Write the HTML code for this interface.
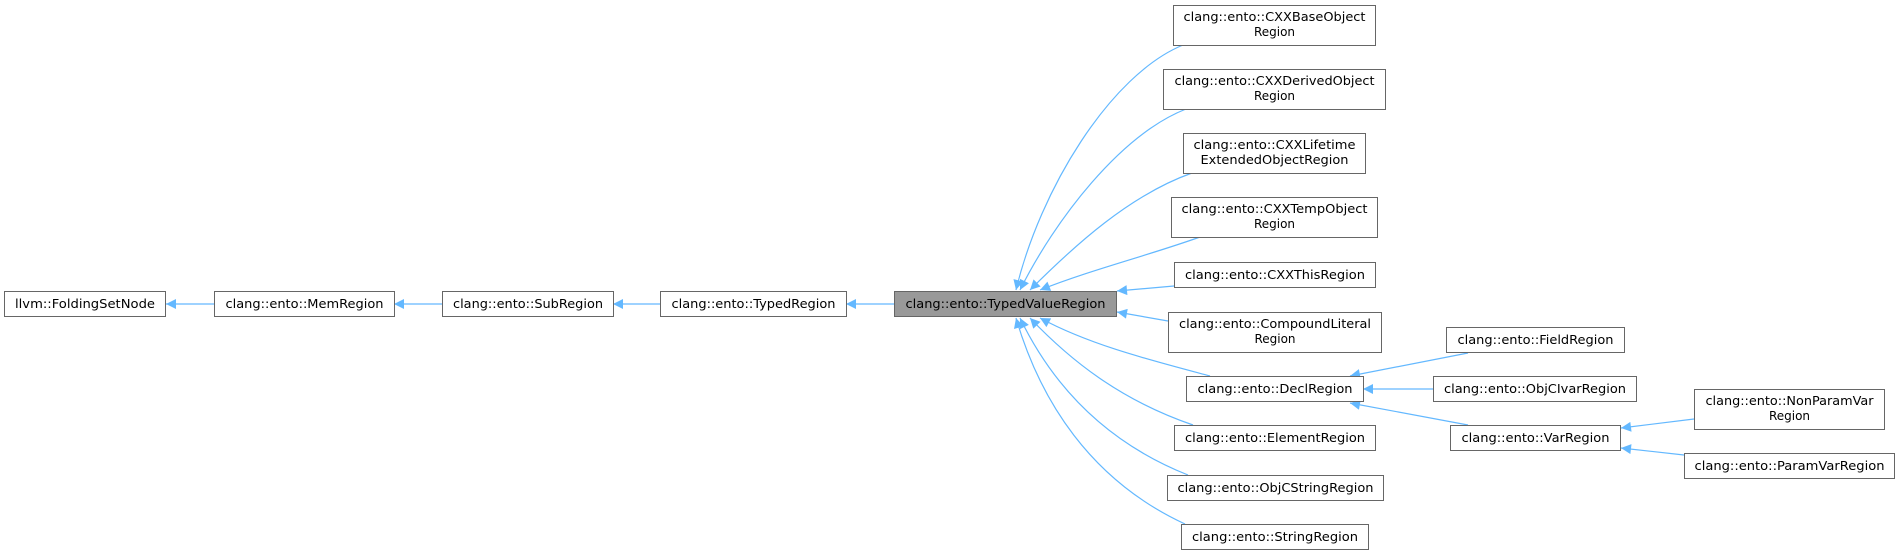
<!DOCTYPE html>
<html><head><meta charset="utf-8"><style>
html,body{margin:0;padding:0;background:#fff;}
svg{display:block;}
text{font-family:"DejaVu Sans","Liberation Sans",sans-serif;font-size:12px;fill:#000;}
rect{fill:#fff;stroke:#666;stroke-width:1;}
path.e{fill:none;stroke:#63b8ff;stroke-width:1.2;}
</style></head><body>
<svg width="1900" height="555" viewBox="0 0 1900 555" xmlns="http://www.w3.org/2000/svg">
<defs>
<marker id="a" viewBox="0 0 10 10" refX="10" refY="5" markerWidth="12" markerHeight="10" markerUnits="userSpaceOnUse" orient="auto">
<path d="M0,0 L10,5 L0,10 z" fill="#63b8ff"/>
</marker>
</defs>
<g>
<path class="e" marker-end="url(#a)" d="M214,304 L166,304"/>
<path class="e" marker-end="url(#a)" d="M442,304 L394,304"/>
<path class="e" marker-end="url(#a)" d="M660,304 L613,304"/>
<path class="e" marker-end="url(#a)" d="M894,304 L846,304"/>
<path class="e" marker-end="url(#a)" d="M1183,45 C1110,75 1040,190 1016,290"/>
<path class="e" marker-end="url(#a)" d="M1186,109 C1120,135 1055,220 1020,290"/>
<path class="e" marker-end="url(#a)" d="M1192,173 C1130,195 1075,245 1030,290"/>
<path class="e" marker-end="url(#a)" d="M1200,237 C1150,255 1090,270 1040,290"/>
<path class="e" marker-end="url(#a)" d="M1174,286 L1117,291"/>
<path class="e" marker-end="url(#a)" d="M1168,321 L1117,312"/>
<path class="e" marker-end="url(#a)" d="M1210,376 C1150,360 1090,345 1040,318"/>
<path class="e" marker-end="url(#a)" d="M1193,425 C1120,400 1070,360 1030,318"/>
<path class="e" marker-end="url(#a)" d="M1188,475 C1100,440 1050,380 1020,318"/>
<path class="e" marker-end="url(#a)" d="M1185,524 C1090,480 1040,400 1016,318"/>
<path class="e" marker-end="url(#a)" d="M1468,353 L1350,376"/>
<path class="e" marker-end="url(#a)" d="M1433,389 L1363,389"/>
<path class="e" marker-end="url(#a)" d="M1468,425 L1350,403"/>
<path class="e" marker-end="url(#a)" d="M1694,419 L1621,428"/>
<path class="e" marker-end="url(#a)" d="M1684,455 L1621,448"/>
</g>
<g>
<rect x="4.5" y="291.5" width="161" height="25"/>
<text x="85" y="308" text-anchor="middle" textLength="140" lengthAdjust="spacingAndGlyphs">llvm::FoldingSetNode</text>
<rect x="214.5" y="291.5" width="180" height="25"/>
<text x="304.5" y="308" text-anchor="middle" textLength="158" lengthAdjust="spacingAndGlyphs">clang::ento::MemRegion</text>
<rect x="442.5" y="291.5" width="171" height="25"/>
<text x="528" y="308" text-anchor="middle" textLength="150" lengthAdjust="spacingAndGlyphs">clang::ento::SubRegion</text>
<rect x="660.5" y="291.5" width="186" height="25"/>
<text x="753.5" y="308" text-anchor="middle" textLength="164" lengthAdjust="spacingAndGlyphs">clang::ento::TypedRegion</text>
<rect x="894.5" y="291.5" width="222" height="25" style="fill:#999"/>
<text x="1005.5" y="308" text-anchor="middle" textLength="200" lengthAdjust="spacingAndGlyphs">clang::ento::TypedValueRegion</text>

<rect x="1173.5" y="5.5" width="202" height="40"/>
<text x="1274.5" y="21" text-anchor="middle" textLength="182" lengthAdjust="spacingAndGlyphs">clang::ento::CXXBaseObject</text>
<text x="1274.5" y="36" text-anchor="middle">Region</text>
<rect x="1163.5" y="69.5" width="222" height="40"/>
<text x="1274.5" y="85" text-anchor="middle" textLength="200" lengthAdjust="spacingAndGlyphs">clang::ento::CXXDerivedObject</text>
<text x="1274.5" y="100" text-anchor="middle">Region</text>
<rect x="1183.5" y="133.5" width="182" height="40"/>
<text x="1274.5" y="149" text-anchor="middle" textLength="162" lengthAdjust="spacingAndGlyphs">clang::ento::CXXLifetime</text>
<text x="1274.5" y="164" text-anchor="middle" textLength="148" lengthAdjust="spacingAndGlyphs">ExtendedObjectRegion</text>
<rect x="1171.5" y="197.5" width="206" height="40"/>
<text x="1274.5" y="213" text-anchor="middle" textLength="186" lengthAdjust="spacingAndGlyphs">clang::ento::CXXTempObject</text>
<text x="1274.5" y="228" text-anchor="middle">Region</text>
<rect x="1174.5" y="262.5" width="201" height="25"/>
<text x="1275" y="279" text-anchor="middle" textLength="180" lengthAdjust="spacingAndGlyphs">clang::ento::CXXThisRegion</text>
<rect x="1168.5" y="312.5" width="213" height="40"/>
<text x="1275" y="328" text-anchor="middle" textLength="192" lengthAdjust="spacingAndGlyphs">clang::ento::CompoundLiteral</text>
<text x="1275" y="343" text-anchor="middle">Region</text>
<rect x="1186.5" y="376.5" width="177" height="25"/>
<text x="1275" y="393" text-anchor="middle" textLength="155" lengthAdjust="spacingAndGlyphs">clang::ento::DeclRegion</text>
<rect x="1174.5" y="425.5" width="201" height="25"/>
<text x="1275" y="442" text-anchor="middle" textLength="180" lengthAdjust="spacingAndGlyphs">clang::ento::ElementRegion</text>
<rect x="1167.5" y="475.5" width="216" height="25"/>
<text x="1275.5" y="492" text-anchor="middle" textLength="196" lengthAdjust="spacingAndGlyphs">clang::ento::ObjCStringRegion</text>
<rect x="1181.5" y="524.5" width="187" height="25"/>
<text x="1275" y="541" text-anchor="middle" textLength="166" lengthAdjust="spacingAndGlyphs">clang::ento::StringRegion</text>

<rect x="1446.5" y="327.5" width="178" height="25"/>
<text x="1535.5" y="344" text-anchor="middle" textLength="156" lengthAdjust="spacingAndGlyphs">clang::ento::FieldRegion</text>
<rect x="1433.5" y="376.5" width="203" height="25"/>
<text x="1535" y="393" text-anchor="middle" textLength="182" lengthAdjust="spacingAndGlyphs">clang::ento::ObjCIvarRegion</text>
<rect x="1450.5" y="425.5" width="170" height="25"/>
<text x="1535.5" y="442" text-anchor="middle" textLength="148" lengthAdjust="spacingAndGlyphs">clang::ento::VarRegion</text>
<rect x="1694.5" y="389.5" width="190" height="40"/>
<text x="1789.5" y="405" text-anchor="middle" textLength="168" lengthAdjust="spacingAndGlyphs">clang::ento::NonParamVar</text>
<text x="1789.5" y="420" text-anchor="middle">Region</text>
<rect x="1684.5" y="453.5" width="210" height="25"/>
<text x="1789.5" y="470" text-anchor="middle" textLength="190" lengthAdjust="spacingAndGlyphs">clang::ento::ParamVarRegion</text>
</g>
</svg>
</body></html>
